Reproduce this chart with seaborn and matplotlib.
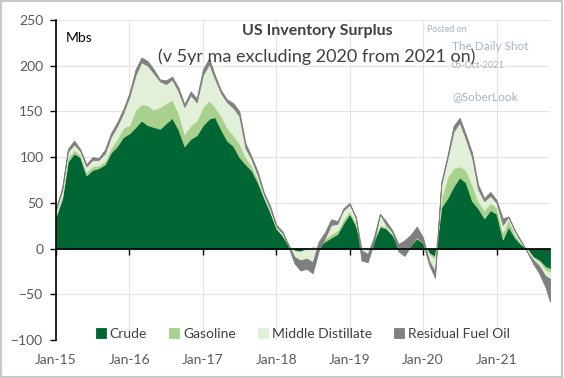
import numpy as np
import pandas as pd
import seaborn as sns
import matplotlib.pyplot as plt
import matplotlib.dates as mdates
from matplotlib.patches import Rectangle

# monthly readings, Jan-15 .. Sep-21 plus last week
dates = list(pd.date_range('2015-01-01', '2021-09-01', freq='MS')) + [pd.Timestamp('2021-09-24')]

crude = [35, 55, 95, 104, 100, 80, 86, 88, 92, 105, 112, 122,
         126, 133, 140, 135, 133, 131, 137, 143, 130, 112, 120, 124,
         135, 142, 144, 130, 118, 112, 100, 92, 85, 72, 55, 40,
         22, 14, 4, -2, -3, 0, 1, 3, 8, 12, 16, 28,
         38, 25, 0, -3, 8, 24, 22, 15, 2, 2, 4, 11,
         6, -5, -9, 45, 55, 68, 78, 72, 52, 44, 33, 42,
         38, 10, 24, 12, 5, 0, -9, -13, -20, -22]
gasoline = [3, 3, 5, 4, 3, 4, 4, 3, 4, 5, 8, 10,
            9, 19, 18, 22, 19, 24, 22, 20, 18, 13, 15, 16,
            20, 20, 11, 15, 14, 12, 15, 8, 5, 4, 2, 2,
            1, 1, 1, -1, -1, -1, -1, 2, 3, 4, 4, 4,
            3, 3, 2, 1, 2, 2, 2, 1, 1, 2, 3, 3,
            2, -2, -3, 10, 23, 20, 12, 14, 18, 8, 9, 8,
            7, 8, 8, 4, 1, -1, -1, -2, -4, -4]
middle_distillate = [4, 6, 6, 6, 4, 6, 7, 6, 8, 12, 14, 16,
                     31, 38, 46, 43, 40, 28, 21, 22, 24, 30, 33, 20,
                     35, 40, 31, 25, 28, 30, 30, 10, 7, 4, 2, 2,
                     1, 2, 0, -6, -9, -10, -15, 3, 7, 16, 10, 10,
                     7, 7, -4, -4, 2, 12, 6, 4, 2, 5, 8, 10,
                     4, -7, -13, 15, 20, 40, 48, 34, 30, 13, 10, 8,
                     5, 8, 3, 4, 2, -2, -2, -4, -6, -7]
residual = [2, 3, 3, 4, 2, 2, 3, 2, 4, 4, 4, 4,
            4, 6, 5, 5, 4, 2, 4, 3, 4, 3, 4, 4,
            6, 6, 4, 3, 3, 5, 5, 5, 3, 4, 2, 3,
            2, 2, -2, -7, -11, -11, -12, -10, -6, -6, -3, 2,
            2, -2, -11, -9, -6, 0, -4, -2, -8, -17, -12, -11,
            -6, -4, -7, 3, 3, 6, 5, 5, 5, 5, 3, 4,
            3, 7, 0, 0, 1, 0, -4, -8, -12, -25]

labels = ['Crude', 'Gasoline', 'Middle Distillate', 'Residual Fuel Oil']
colors = ['#006633', '#a9d18e', '#e2f0d9', '#7f7f7f']

sns.set_theme(style='white')
plt.rcParams['font.family'] = ['Lato', 'DejaVu Sans']

fig, ax = plt.subplots(figsize=(5.64, 3.78), dpi=100)
fig.subplots_adjust(left=56/564, right=550/564, top=1-20/378, bottom=1-340/378)

ax.stackplot(dates, crude, gasoline, middle_distillate, residual,
             labels=labels, colors=colors, lw=0.6, edgecolor='face')

ax.set_ylim(-100, 250)
ax.set_yticks(range(-100, 251, 50))
ax.set_xlim(pd.Timestamp('2015-01-01'), pd.Timestamp('2021-09-24'))
ax.xaxis.set_major_locator(mdates.YearLocator())
ax.xaxis.set_major_formatter(mdates.DateFormatter('%b-%y'))

ax.grid(True, color='#e4e4e4', lw=0.8)
ax.set_axisbelow(True)
for s in ['top', 'right']:
    ax.spines[s].set_visible(False)
ax.spines['bottom'].set_position(('data', 0))
ax.spines['bottom'].set_color('black')
ax.spines['bottom'].set_linewidth(1.2)
ax.spines['bottom'].set_zorder(5)
ax.spines['left'].set_color('black')
ax.spines['left'].set_linewidth(1.2)

ax.tick_params(axis='y', direction='out', length=4, width=1, color='black',
               labelsize=10, labelcolor='#595959', pad=5, left=True)
ax.tick_params(axis='x', direction='out', length=4, width=1, color='black',
               labelsize=10, labelcolor='#595959', pad=72, bottom=True)

ax.text(0.02, 0.93, 'Mbs', transform=ax.transAxes, fontsize=10, color='black')
fig.text(317/564, 1-31/378, 'US Inventory Surplus', ha='center', va='center',
         fontsize=11.5, fontweight='bold', color='#404040')
fig.text(317/564, 1-57/378, '(v 5yr ma excluding 2020 from 2021 on)', ha='center', va='center',
         fontsize=13, color='#404040')

wm = '#aab2c2'
fig.text(427/564, 1-29/378, 'Posted on', fontsize=6.5, color=wm, va='center')
fig.text(452/564, 1-46/378, 'The Daily Shot', fontsize=8.5, color=wm, va='center')
fig.text(452/564, 1-66/378, '05-Oct-2021', fontsize=6.5, color=wm, va='center')
fig.text(452/564, 1-97/378, '@SoberLook', fontsize=8.5, color=wm, va='center')

ax.legend(loc='center', bbox_to_anchor=(0.5, 0.02), ncol=4, frameon=False,
          fontsize=10, handlelength=0.7, handleheight=0.7, handletextpad=0.3,
          columnspacing=1.6, labelcolor='#404040')

fig.patches.append(Rectangle((0.002, 0.003), 0.995, 0.994, transform=fig.transFigure,
                             fill=False, edgecolor='#c8c8c8', lw=1.5))

plt.savefig('out.png', dpi=100)
